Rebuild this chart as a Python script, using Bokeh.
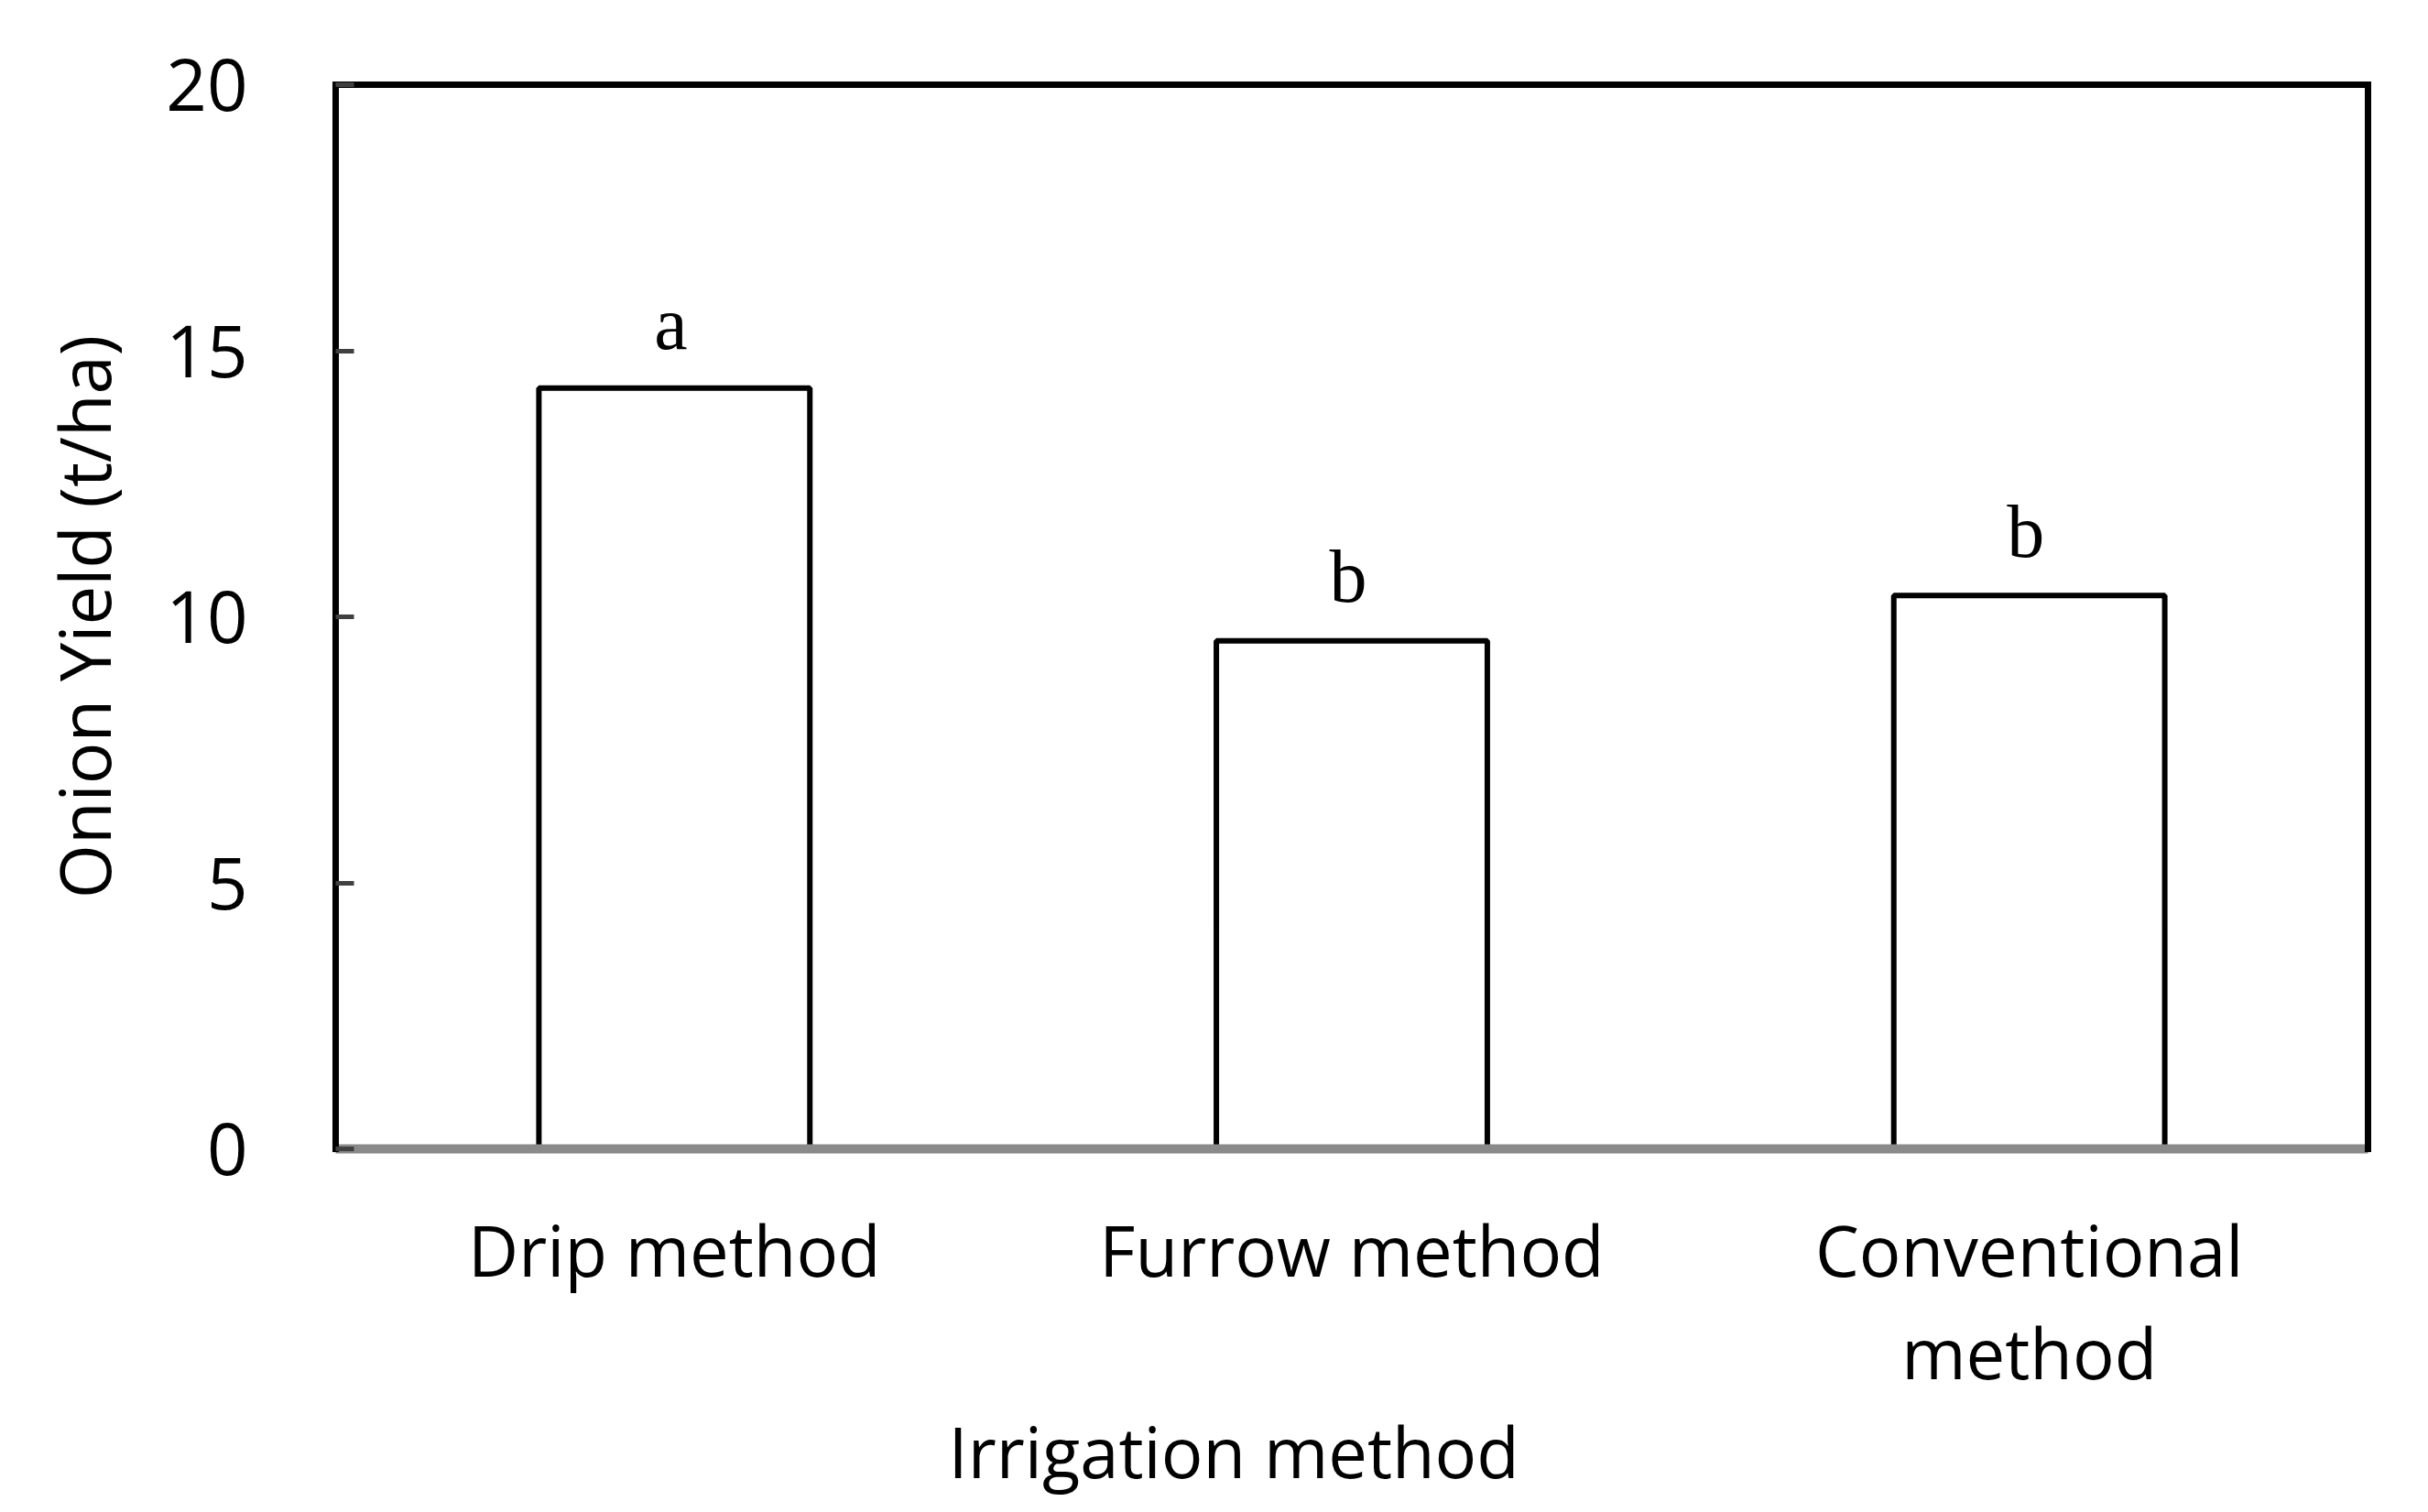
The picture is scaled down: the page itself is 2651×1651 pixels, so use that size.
from bokeh.plotting import figure
from bokeh.models import (Range1d, FixedTicker, LinearAxis, ColumnDataSource, Title)
from bokeh.core.properties import value
from bokeh.embed import file_html
from bokeh.resources import INLINE

# ---- data ----
methods = ["Drip method", "Furrow method", "Conventional method"]
tick_line1 = ["Drip method", "Furrow method", "Conventional"]
tick_line2 = ["", "", "method"]
yield_t_ha = [14.3, 9.55, 10.4]
letters = ["a", "b", "b"]
y_ticks = [0, 5, 10, 15, 20]

FONT = "Open Sans"

# category centres on a numeric axis (one unit per category)
xpos = [i + 0.5 for i in range(len(methods))]

p = figure(
    x_range=Range1d(0, len(methods)),
    y_range=Range1d(0, 20),
    width=2635, height=1635,
    min_border_left=366, min_border_right=50,
    min_border_top=92, min_border_bottom=381,
    output_backend="svg", toolbar_location=None,
    background_fill_color="white", border_fill_color="white",
)
p.outline_line_color = None
p.xgrid.grid_line_color = None
p.ygrid.grid_line_color = None

src = ColumnDataSource(dict(x=xpos, top=yield_t_ha, lab=letters, name=methods))

p.vbar(x="x", top="top", width=0.4, bottom=0, source=src,
       fill_color="white", line_color="black", line_width=6)

p.text(x="x", y="top", text="lab", source=src,
       text_font=value("Liberation Serif"), text_font_size="82px",
       text_align="center", text_baseline="alphabetic",
       y_offset=-70, x_offset=-4, text_color="black")

# y axis (left)
ya = p.yaxis[0]
ya.ticker = FixedTicker(ticks=y_ticks)
ya.axis_line_color = "black"
ya.axis_line_width = 7
ya.axis_line_cap = "square"
ya.major_tick_in = 20
ya.major_tick_out = 0
ya.major_tick_line_width = 5
ya.major_tick_line_color = "#404040"
ya.minor_tick_line_color = None
ya.major_label_standoff = 96
ya.major_label_text_font = FONT
ya.major_label_text_font_size = "78px"
ya.major_label_text_color = "black"
ya.axis_label = "Onion Yield (t/ha)"
ya.axis_label_text_font = FONT
ya.axis_label_text_font_size = "76px"
ya.axis_label_text_font_style = "normal"
ya.axis_label_text_color = "black"
ya.axis_label_standoff = 35

# x axis (below): first line of the category labels
xa = p.xaxis[0]
xa.ticker = FixedTicker(ticks=xpos)
xa.major_label_overrides = {x: t for x, t in zip(xpos, tick_line1)}
xa.axis_line_color = "#8a8a8a"
xa.axis_line_width = 10
xa.major_tick_line_color = None
xa.minor_tick_line_color = None
xa.major_label_standoff = 52
xa.major_label_text_font = FONT
xa.major_label_text_font_size = "76px"
xa.major_label_text_color = "black"

# second line of the wrapped category label
line2_ticks = [x for x, t in zip(xpos, tick_line2) if t]
xa2 = LinearAxis(ticker=FixedTicker(ticks=line2_ticks),
                 major_label_overrides={x: t for x, t in zip(xpos, tick_line2) if t},
                 axis_line_color=None, major_tick_line_color=None,
                 minor_tick_line_color=None,
                 major_label_standoff=0,
                 major_label_text_font=FONT, major_label_text_font_size="76px",
                 major_label_text_color="black")
p.add_layout(xa2, "below")

# x-axis title: in the reference it sits left of the frame centre
p.add_layout(Title(text="Irrigation method", align="left", offset=669, standoff=0,
                   text_font=FONT, text_font_size="76px", text_font_style="normal",
                   text_color="black"), "below")

# frame top and right drawn as bare axes
right = LinearAxis(ticker=FixedTicker(ticks=[]),
                   axis_line_color="black", axis_line_width=7, axis_line_cap="square",
                   major_tick_line_color=None, minor_tick_line_color=None)
p.add_layout(right, "right")
top = LinearAxis(ticker=FixedTicker(ticks=[]),
                 axis_line_color="black", axis_line_width=7, axis_line_cap="square",
                 major_tick_line_color=None, minor_tick_line_color=None)
p.add_layout(top, "above")

open("out.html", "w").write(file_html(p, INLINE))
